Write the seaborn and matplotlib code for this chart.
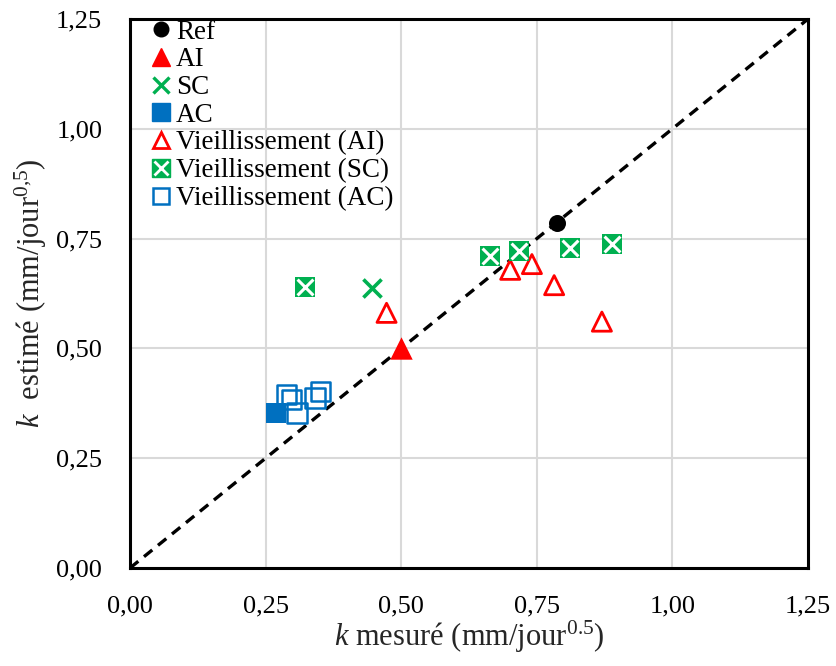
import matplotlib
matplotlib.use("Agg")
import matplotlib.pyplot as plt
import seaborn as sns
import pandas as pd
from matplotlib.lines import Line2D
from matplotlib.legend_handler import HandlerTuple

# ---- data ----
ref_x, ref_y = [0.787], [0.785]
ai_x, ai_y = [0.500], [0.500]
sc_x, sc_y = [0.446], [0.638]
ac_x, ac_y = [0.269], [0.353]
vai_x = [0.473, 0.701, 0.741, 0.782, 0.870]
vai_y = [0.581, 0.679, 0.692, 0.644, 0.561]
vsc_x = [0.323, 0.664, 0.718, 0.812, 0.888]
vsc_y = [0.640, 0.710, 0.722, 0.728, 0.737]
vac_x = [0.288, 0.297, 0.308, 0.341, 0.352]
vac_y = [0.396, 0.383, 0.353, 0.387, 0.401]
diag = [0.0, 1.25]
ticks = [0.0, 0.25, 0.5, 0.75, 1.0, 1.25]
tick_labels = ["0,00", "0,25", "0,50", "0,75", "1,00", "1,25"]
labels = ["Ref", "AI", "SC", "AC", "Vieillissement (AI)",
          "Vieillissement (SC)", "Vieillissement (AC)"]

RED = "#FF0000"
GREEN = "#00B050"
BLUE = "#0070C0"

sns.set_style("white")
plt.rcParams["font.family"] = ["Liberation Serif", "DejaVu Serif"]
plt.rcParams["mathtext.fontset"] = "custom"
plt.rcParams["mathtext.rm"] = "Liberation Serif"
plt.rcParams["mathtext.it"] = "Liberation Serif:italic"

fig = plt.figure(figsize=(8.37, 6.66), dpi=100)
ax = fig.add_axes([130 / 837, 1 - 568 / 666, 678 / 837, 549 / 666])

ax.grid(True, color="#D9D9D9", linewidth=1.5, zorder=0)
ax.set_axisbelow(True)

sns.lineplot(x=diag, y=diag, ax=ax, color="black", linewidth=2.4,
             linestyle=(0, (3.2, 2.2)), zorder=2, legend=False)

sns.scatterplot(x=ref_x, y=ref_y, ax=ax, marker="o", s=150, color="black",
                edgecolor="black", linewidth=0, zorder=3, legend=False)
sns.scatterplot(x=ai_x, y=ai_y, ax=ax, marker="^", s=260, color=RED,
                edgecolor=RED, linewidth=0, zorder=3, legend=False)
sns.scatterplot(x=sc_x, y=sc_y, ax=ax, marker="x", s=170, color=GREEN,
                linewidth=2.6, zorder=3, legend=False)
sns.scatterplot(x=ac_x, y=ac_y, ax=ax, marker="s", s=200, color=BLUE,
                edgecolor=BLUE, linewidth=0, zorder=3, legend=False)
sns.scatterplot(x=vai_x, y=vai_y, ax=ax, marker="^", s=190, color=RED,
                facecolor="none", edgecolor=RED, linewidth=2.0, zorder=4,
                legend=False)
sns.scatterplot(x=vsc_x, y=vsc_y, ax=ax, marker="s", s=200, color=GREEN,
                edgecolor=GREEN, linewidth=0, zorder=4, legend=False)
sns.scatterplot(x=vsc_x, y=vsc_y, ax=ax, marker="x", s=130, color="white",
                linewidth=2.2, zorder=5, legend=False)
sns.scatterplot(x=vac_x, y=vac_y, ax=ax, marker="s", s=190, color=BLUE,
                facecolor="none", edgecolor=BLUE, linewidth=1.8, zorder=5,
                legend=False)

ax.set_xlim(0, 1.25)
ax.set_ylim(0, 1.25)
ax.set_xticks(ticks)
ax.set_yticks(ticks)
ax.set_xticklabels(tick_labels)
ax.set_yticklabels(tick_labels)
ax.tick_params(axis="both", direction="inout", length=12, width=1.8,
               labelsize=19, color="black", labelcolor="black", pad=14)
for sp in ax.spines.values():
    sp.set_visible(True)
    sp.set_color("black")
    sp.set_linewidth(2.2)

ax.set_xlabel(r"$k$ mesuré (mm/jour$^{0.5}$)", fontsize=22, labelpad=1)
ax.set_ylabel(r"$k$  estimé (mm/jour$^{0{,}5}$)", fontsize=22, labelpad=5)

h_ref = Line2D([], [], marker="o", linestyle="none", color="black", markersize=10.5)
h_ai = Line2D([], [], marker="^", linestyle="none", color=RED, markersize=13)
h_sc = Line2D([], [], marker="x", linestyle="none", color=GREEN,
              markersize=11, markeredgewidth=2.4)
h_ac = Line2D([], [], marker="s", linestyle="none", color=BLUE, markersize=13)
h_vai = Line2D([], [], marker="^", linestyle="none", markerfacecolor="none",
               markeredgecolor=RED, markersize=12, markeredgewidth=2.0)
h_vsc1 = Line2D([], [], marker="s", linestyle="none", color=GREEN, markersize=13)
h_vsc2 = Line2D([], [], marker="x", linestyle="none", color="white",
                markersize=10, markeredgewidth=2.0)
h_vac = Line2D([], [], marker="s", linestyle="none", markerfacecolor="none",
               markeredgecolor=BLUE, markersize=12, markeredgewidth=1.8)

leg = ax.legend([h_ref, h_ai, h_sc, h_ac, h_vai, (h_vsc1, h_vsc2), h_vac], labels,
                handler_map={tuple: HandlerTuple(ndivide=1)},
                loc="upper left", bbox_to_anchor=(0.024, 1.006), frameon=False,
                fontsize=19.5, handlelength=0.8, handletextpad=0.15,
                labelspacing=0.1, borderpad=0.15, borderaxespad=0)
for t in leg.get_texts():
    t.set_color("black")

fig.savefig("out.png", dpi=100)
